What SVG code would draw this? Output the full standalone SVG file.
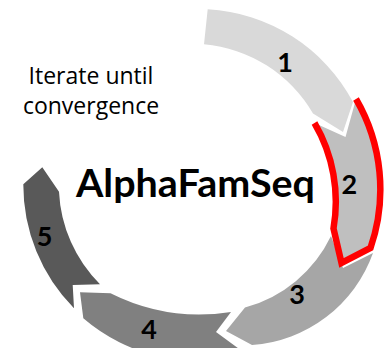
<svg xmlns="http://www.w3.org/2000/svg" width="385" height="348" viewBox="0 0 385 348">
  <style>
    .num { font-family: Lato, "Liberation Sans", sans-serif; font-weight: 700; font-size: 27px; fill: #000; text-anchor: middle; }
    .note { font-family: "Open Sans", "Liberation Sans", sans-serif; font-size: 23px; fill: #000; text-anchor: middle; }
    .title { font-family: Lato, "Liberation Sans", sans-serif; font-weight: 700; font-size: 39px; fill: #000; }
    .highlight { fill: none; stroke: #ff0000; stroke-width: 6.5; stroke-linejoin: miter; stroke-miterlimit: 10; }
  </style>
  <rect width="385" height="348" fill="#ffffff"/>

  <!-- step 1: flat start at the top, arrow tip pointing into step 2 -->
  <g id="step1">
    <path fill="#d9d9d9" d="M207.7 9.3 A175.5 175.5 0 0 1 353 102 L343 132 L313 113.5 A140 140 0 0 0 204 44.3 Z"/>
    <text class="num" x="285" y="71.7">1</text>
  </g>

  <!-- step 3 -->
  <g id="step3">
    <path fill="#a6a6a6" d="M373 253 A139 139 0 0 1 252 345 L226 331 L245 307.5 A134 134 0 0 0 331 236 L343 268 Z"/>
    <text class="num" x="297" y="303.5">3</text>
  </g>

  <!-- step 4 (runs past the bottom edge) -->
  <g id="step4">
    <path fill="#808080" d="M246 354 A175.5 175.5 0 0 1 83.3 318.3 L80 292.3 L110.5 293.3 A200 200 0 0 0 231 312 L216 332 Z"/>
    <text class="num" x="149" y="338.5">4</text>
  </g>

  <!-- step 5 -->
  <g id="step5">
    <path fill="#595959" d="M74 308.3 A175.5 175.5 0 0 1 23.3 184.3 L42.3 167.3 L59 191.7 A140.4 140.4 0 0 0 100 284.3 L72.7 285 Z"/>
    <text class="num" x="44.5" y="246.2">5</text>
  </g>

  <!-- step 2, highlighted with a red outline (open at the notch) -->
  <g id="step2">
    <path fill="#bfbfbf" d="M356 99 A180 180 0 0 1 370.5 248 L341.5 263 L333.5 228.5 A156 156 0 0 0 314.5 123 L345.5 137 Z"/>
    <path class="highlight" d="M314.5 123 A156 156 0 0 1 333.5 228.5 L341.5 263 L370.5 248 A180 180 0 0 0 356 99"/>
    <text class="num" x="349.3" y="194.2">2</text>
  </g>

  <g id="labels">
    <text class="note" x="91" y="84.3">Iterate until</text>
    <text class="note" x="91" y="114.3">convergence</text>
    <text class="title" x="76" y="197" textLength="239" lengthAdjust="spacingAndGlyphs">AlphaFamSeq</text>
  </g>
</svg>
